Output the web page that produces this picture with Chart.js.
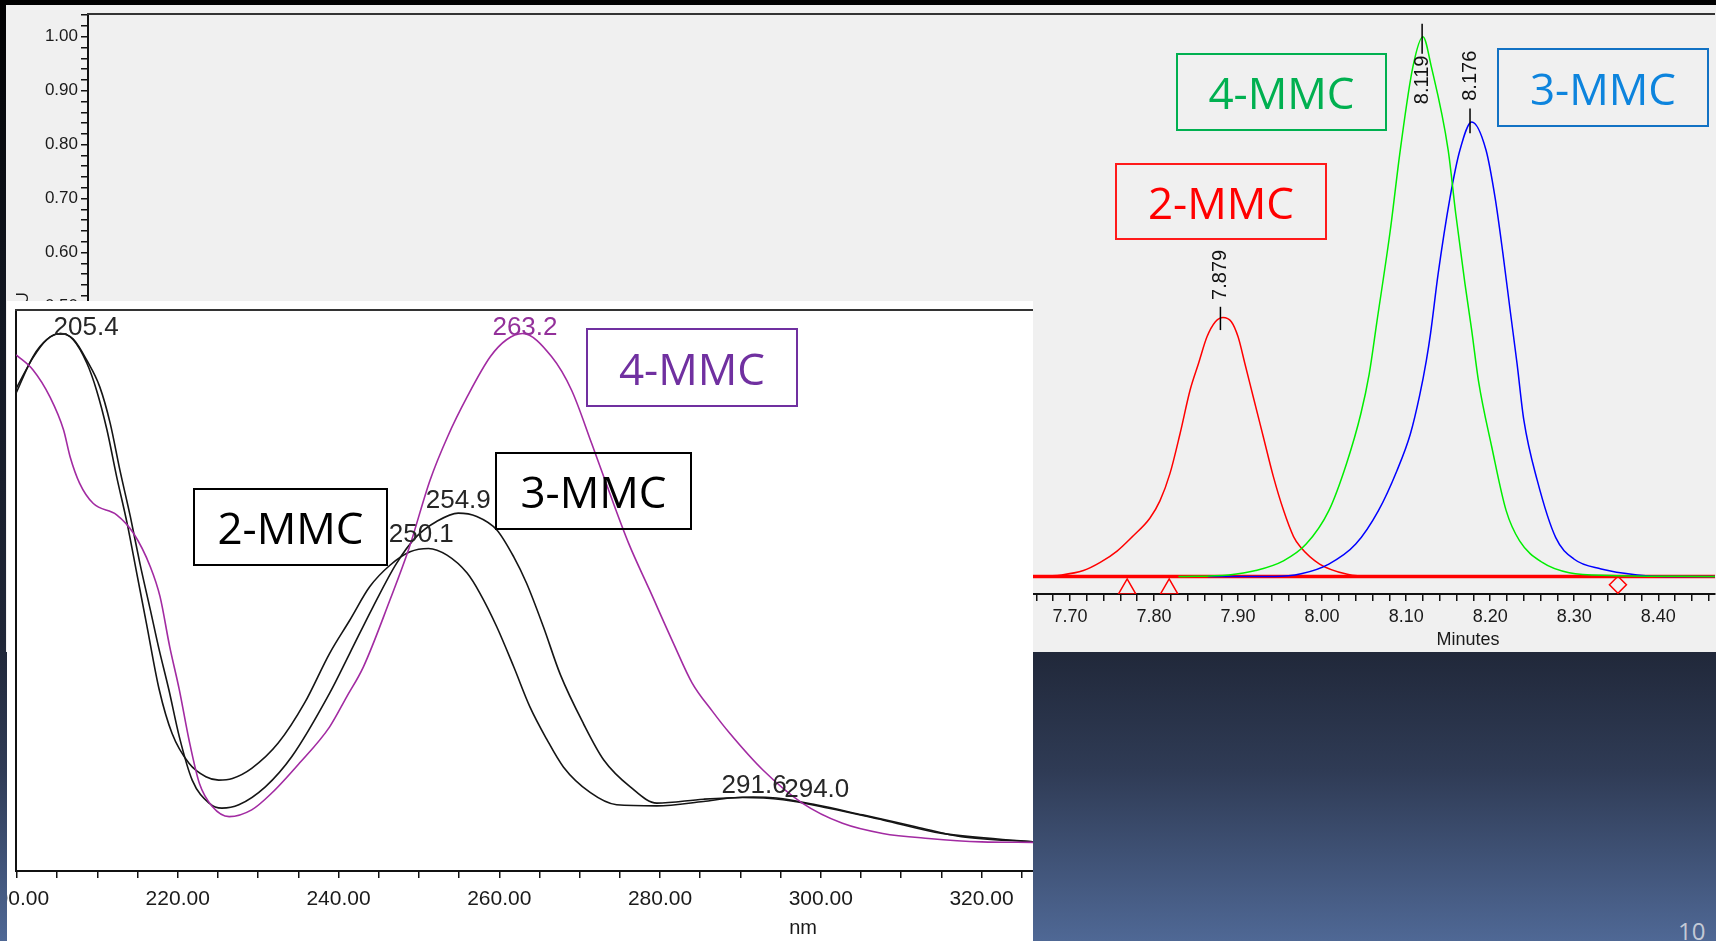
<!DOCTYPE html>
<html>
<head>
<meta charset="utf-8">
<title>MMC isomers - chromatogram and UV spectra</title>
<script src="https://cdn.jsdelivr.net/npm/chart.js@4.4.1/dist/chart.umd.min.js"></script>
<style>
  html, body { margin: 0; padding: 0; }
  body {
    position: relative; width: 1716px; height: 941px; overflow: hidden;
    background: linear-gradient(to bottom, #000 0px, #07090d 100px, #131823 330px, #1f2637 640px, #2f3b55 770px, #4f6895 941px);
  }
  #back { position: absolute; left: 6px; top: 5px; width: 1710px; height: 647px; background: #f0f0f0; }
  #front { position: absolute; left: 7px; top: 301px; width: 1026px; height: 640px; background: #fff; }
  canvas { display: block; }
  .tag {
    position: absolute; box-sizing: border-box; border: 2px solid;
    display: flex; align-items: center; justify-content: center;
    font-family: 'Open Sans', sans-serif; font-size: 44px; line-height: 1;
  }
  #page { position: absolute; left: 1678px; top: 919px; font-family: 'Open Sans', sans-serif; font-size: 24px; line-height: 24px; color: #c3cad6; }
</style>
</head>
<body>
<div id="back"><canvas id="chrom" width="1710" height="647"></canvas></div>
<div id="front"><canvas id="spec" width="1026" height="640"></canvas></div>

<div class="tag" style="left:1176px;top:53px;width:211px;height:78px;color:#00b050;border-color:#00b050">4-MMC</div>
<div class="tag" style="left:1497px;top:48px;width:212px;height:79px;color:#0d84dd;border-color:#1272c4">3-MMC</div>
<div class="tag" style="left:1115px;top:163px;width:212px;height:77px;color:#ff0000;border-color:#ff1a1a">2-MMC</div>
<div class="tag" style="left:586px;top:328px;width:212px;height:79px;color:#7030a0;border-color:#7030a0">4-MMC</div>
<div class="tag" style="left:193px;top:488px;width:195px;height:78px;color:#000;border-color:#000">2-MMC</div>
<div class="tag" style="left:495px;top:452px;width:197px;height:78px;color:#000;border-color:#000">3-MMC</div>
<div id="page">10</div>

<script>
const FONT = '"Liberation Sans", Arial, sans-serif';

// --- chromatogram (minutes / AU) ---
const redTimes = [7.65, 7.690, 7.716, 7.736, 7.756, 7.775, 7.795, 7.807, 7.819, 7.831, 7.843, 7.853, 7.863, 7.873, 7.882, 7.892, 7.900, 7.908, 7.918, 7.930, 7.942, 7.954, 7.966, 7.974, 7.997, 8.030, 8.057, 8.4675];
const redAbs = [0, 0.003, 0.011, 0.026, 0.047, 0.075, 0.108, 0.140, 0.191, 0.265, 0.346, 0.395, 0.444, 0.472, 0.480, 0.472, 0.444, 0.395, 0.333, 0.259, 0.185, 0.123, 0.074, 0.055, 0.023, 0.004, 0, 0];

const greenTimes = [7.829, 7.889, 7.921, 7.954, 7.981, 8.008, 8.029, 8.046, 8.056, 8.065, 8.081, 8.093, 8.108, 8.120, 8.130, 8.150, 8.159, 8.170, 8.178, 8.186, 8.202, 8.219, 8.235, 8.262, 8.294, 8.343, 8.4675];
const greenAbs = [0, 0.003, 0.011, 0.029, 0.060, 0.122, 0.209, 0.301, 0.375, 0.470, 0.640, 0.790, 0.944, 1.000, 0.944, 0.790, 0.672, 0.542, 0.456, 0.363, 0.239, 0.122, 0.066, 0.026, 0.007, 0.002, 0];

const blueTimes = [7.864, 7.943, 7.975, 8.008, 8.040, 8.067, 8.089, 8.105, 8.116, 8.124, 8.129, 8.138, 8.152, 8.164, 8.178, 8.195, 8.206, 8.215, 8.224, 8.232, 8.240, 8.256, 8.278, 8.300, 8.332, 8.375, 8.408, 8.4675];
const blueAbs = [0, 0, 0.005, 0.023, 0.060, 0.122, 0.196, 0.264, 0.335, 0.400, 0.450, 0.560, 0.700, 0.790, 0.842, 0.790, 0.700, 0.600, 0.490, 0.394, 0.290, 0.178, 0.072, 0.032, 0.014, 0.003, 0, 0];

const baseTimes = [6.5315, 8.4675];
const baseAbs = [0, 0];

const eventTimes = [7.768, 7.818, 8.352];
const eventLevels = [-0.023, -0.023, -0.0154];
const eventStyles = ['triangle', 'triangle', 'rectRot'];

const peakTimes = [7.879, 8.119, 8.176];
const peakNames = ['7.879', '8.119', '8.176'];
const peakHeights = [Math.max(...redAbs), Math.max(...greenAbs), Math.max(...blueAbs)];

// --- UV spectra (nm / relative absorbance) ---
const spec4Nm = [199.9, 202.0, 204.1, 205.8, 206.6, 207.8, 209.5, 212.4, 214.5, 216.6, 217.8, 219.0, 220.2, 221.4, 222.7, 224.3, 226.4, 229.2, 231.7, 235.0, 238.9, 241.0, 243.1, 246.4, 248.7, 251.4, 253.6, 256.0, 258.9, 260.9, 262.9, 266.5, 269.0, 271.5, 273.6, 276.1, 278.7, 281.7, 284.0, 286.5, 288.7, 292.8, 297.7, 302.7, 307.7, 313.4, 320.0, 326.4];
const spec4Abs = [0.920, 0.893, 0.845, 0.786, 0.739, 0.691, 0.655, 0.635, 0.602, 0.542, 0.489, 0.400, 0.323, 0.234, 0.156, 0.115, 0.097, 0.109, 0.139, 0.190, 0.257, 0.310, 0.364, 0.483, 0.572, 0.697, 0.775, 0.845, 0.917, 0.947, 0.958, 0.917, 0.857, 0.762, 0.679, 0.584, 0.501, 0.405, 0.335, 0.285, 0.245, 0.180, 0.121, 0.085, 0.067, 0.058, 0.052, 0.051];

const spec2Nm = [199.9, 202.0, 203.7, 205.4, 207.0, 208.7, 209.9, 211.2, 212.4, 213.7, 214.9, 216.1, 217.7, 219.3, 221.4, 223.5, 225.1, 226.8, 229.2, 232.5, 235.8, 238.9, 241.4, 243.9, 246.4, 248.9, 251.2, 253.5, 256.0, 257.6, 259.7, 261.8, 263.8, 265.9, 268.0, 271.3, 274.6, 279.6, 285.4, 288.7, 291.6, 294.5, 299.4, 305.2, 311.8, 317.5, 326.4];
const spec2Abs = [0.852, 0.917, 0.947, 0.958, 0.947, 0.905, 0.857, 0.786, 0.703, 0.620, 0.531, 0.442, 0.323, 0.245, 0.192, 0.168, 0.162, 0.165, 0.183, 0.228, 0.300, 0.388, 0.447, 0.507, 0.545, 0.569, 0.575, 0.563, 0.531, 0.495, 0.435, 0.364, 0.293, 0.235, 0.185, 0.140, 0.118, 0.116, 0.124, 0.130, 0.132, 0.130, 0.118, 0.100, 0.079, 0.061, 0.052];

const spec3Nm = [199.9, 202.0, 203.7, 205.4, 207.0, 208.7, 210.3, 211.6, 212.8, 214.1, 215.3, 216.6, 217.6, 218.9, 220.2, 221.8, 223.9, 225.5, 227.6, 230.9, 234.2, 238.9, 241.4, 244.3, 247.2, 249.7, 252.2, 254.9, 257.2, 259.7, 261.8, 263.4, 265.5, 267.6, 270.5, 273.0, 276.3, 279.6, 285.4, 290.3, 295.3, 301.0, 307.7, 315.1, 326.4];
const spec3Abs = [0.860, 0.915, 0.947, 0.958, 0.948, 0.910, 0.863, 0.798, 0.715, 0.632, 0.548, 0.465, 0.400, 0.323, 0.239, 0.162, 0.121, 0.112, 0.118, 0.150, 0.204, 0.317, 0.388, 0.471, 0.548, 0.596, 0.623, 0.638, 0.632, 0.608, 0.560, 0.513, 0.435, 0.350, 0.262, 0.198, 0.150, 0.121, 0.128, 0.131, 0.127, 0.112, 0.091, 0.067, 0.052];

const specPeakNames = ['205.4', '250.1', '254.9', '263.2', '291.6', '294.0'];
const specPeakColors = ['#262626', '#262626', '#262626', '#93309a', '#262626', '#262626'];

// label placement: [nm of text centre, absorbance of text baseline]
const specPeakSpots = [[208.6, 0.955], [250.3, 0.586], [254.9, 0.647], [263.2, 0.955], [291.7, 0.139], [299.5, 0.132]];
// chromatogram peak marks: tick above / below apex and text centre offset (px)
const chromMarkLayout = [{ up: 10.6, down: 12.7, text: -42.5 }, { up: 13, down: 17, text: 43.2 }, { up: 13.4, down: 11.3, text: -46.2 }];

const toXY = (xs, ys) => xs.map((x, i) => ({ x: x, y: ys[i] }));

const frameTop = {
    id: 'frameTop',
    afterDraw(chart) {
        const { ctx, chartArea: a } = chart;
        ctx.save();
        ctx.strokeStyle = '#333';
        ctx.lineWidth = 2;
        ctx.beginPath();
        ctx.moveTo(a.left - 1, a.top);
        ctx.lineTo(a.right, a.top);
        ctx.stroke();
        ctx.restore();
    }
};

const caption = (id, text, value, top, size) => ({
    id: id,
    afterDraw(chart) {
        const { ctx, scales: { x } } = chart;
        ctx.save();
        ctx.font = size + 'px ' + FONT;
        ctx.fillStyle = '#1a1a1a';
        ctx.textAlign = 'center';
        ctx.textBaseline = 'middle';
        ctx.fillText(text, x.getPixelForValue(value), top);
        ctx.restore();
    }
});

const chromPeaks = {
    id: 'chromPeaks',
    afterDatasetsDraw(chart) {
        const { ctx, scales: { x, y } } = chart;
        ctx.save();
        ctx.strokeStyle = '#000';
        ctx.lineWidth = 1.5;
        ctx.fillStyle = '#111';
        ctx.font = '20px ' + FONT;
        ctx.textAlign = 'center';
        ctx.textBaseline = 'middle';
        peakTimes.forEach((t, i) => {
            const px = x.getPixelForValue(t);
            const py = y.getPixelForValue(peakHeights[i]);
            const m = chromMarkLayout[i];
            ctx.beginPath();
            ctx.moveTo(px, py - m.up);
            ctx.lineTo(px, py + m.down);
            ctx.stroke();
            ctx.save();
            ctx.translate(px, py + m.text);
            ctx.rotate(-Math.PI / 2);
            ctx.fillText(peakNames[i], 0, 0);
            ctx.restore();
        });
        ctx.restore();
    }
};

const specPeaks = {
    id: 'specPeaks',
    afterDatasetsDraw(chart) {
        const { ctx, scales: { x, y } } = chart;
        ctx.save();
        ctx.font = '26px ' + FONT;
        ctx.textAlign = 'center';
        ctx.textBaseline = 'alphabetic';
        specPeakNames.forEach((name, i) => {
            ctx.fillStyle = specPeakColors[i];
            ctx.fillText(name, x.getPixelForValue(specPeakSpots[i][0]), y.getPixelForValue(specPeakSpots[i][1]));
        });
        ctx.restore();
    }
};

const chromCtx = document.getElementById('chrom').getContext('2d');
const chromChart = new Chart(chromCtx, {
    type: 'line',
    data: {
        datasets: [
            { label: '4-MMC', data: toXY(greenTimes, greenAbs), borderColor: '#00ee00', borderWidth: 1.5 },
            { label: '3-MMC', data: toXY(blueTimes, blueAbs), borderColor: '#0000ff', borderWidth: 1.5 },
            { label: '2-MMC', data: toXY(redTimes, redAbs), borderColor: '#ff0000', borderWidth: 1.5 },
            {
                label: 'events', type: 'scatter', showLine: false,
                data: toXY(eventTimes, eventLevels),
                pointStyle: eventStyles, pointRadius: [10, 10, 8.5], pointBorderWidth: 1.5,
                pointBorderColor: '#ff0000', pointBackgroundColor: 'rgba(0,0,0,0)'
            },
            { label: 'baseline', data: toXY(baseTimes, baseAbs), borderColor: '#ff0000', borderWidth: 3.5 }
        ]
    },
    options: {
        responsive: false,
        animation: false,
        events: [],
        layout: { autoPadding: false, padding: { top: 9, right: 1, left: 0, bottom: 0 } },
        elements: { point: { radius: 0 }, line: { cubicInterpolationMode: 'monotone' } },
        plugins: { legend: { display: false }, tooltip: { enabled: false } },
        scales: {
            x: {
                type: 'linear', min: 6.5315, max: 8.4675,
                afterFit: s => { s.height = 58; s.paddingLeft = 0; s.paddingRight = 0; },
                border: { color: '#111', width: 2 },
                grid: { drawOnChartArea: false, tickLength: 7, color: '#111', lineWidth: 1.5 },
                ticks: {
                    stepSize: 0.02, includeBounds: false, autoSkip: false, maxRotation: 0, padding: 5.5,
                    color: '#1a1a1a', font: { family: FONT, size: 18 },
                    callback: v => (Math.round(v * 100) % 10 === 0 ? v.toFixed(2) : '')
                }
            },
            y: {
                min: -0.0324, max: 1.042,
                afterFit: s => { s.width = 82; s.paddingTop = 0; s.paddingBottom = 0; },
                border: { color: '#111', width: 2 },
                grid: { drawOnChartArea: false, tickLength: 7, color: '#111', lineWidth: 1.5 },
                title: { display: true, text: 'AU', color: '#1a1a1a', font: { family: FONT, size: 17 }, padding: { top: 7, bottom: 0 } },
                ticks: {
                    stepSize: 0.02, includeBounds: false, autoSkip: false, padding: 3,
                    color: '#1a1a1a', font: { family: FONT, size: 17 },
                    callback: v => (Math.round(v * 100) % 10 === 0 ? v.toFixed(2) : '')
                }
            }
        }
    },
    plugins: [frameTop, chromPeaks, caption('minutesTitle', 'Minutes', 8.1736, 635.5, 18)]
});

const specCtx = document.getElementById('spec').getContext('2d');
const specChart = new Chart(specCtx, {
    type: 'line',
    data: {
        datasets: [
            { label: '4-MMC', data: toXY(spec4Nm, spec4Abs), borderColor: '#a22ba2', borderWidth: 1.6 },
            { label: '3-MMC', data: toXY(spec3Nm, spec3Abs), borderColor: '#151515', borderWidth: 1.6 },
            { label: '2-MMC', data: toXY(spec2Nm, spec2Abs), borderColor: '#151515', borderWidth: 1.6 }
        ]
    },
    options: {
        responsive: false,
        animation: false,
        events: [],
        layout: { autoPadding: false, padding: { top: 9, right: 0, left: 0, bottom: 0 } },
        elements: { point: { radius: 0 }, line: { cubicInterpolationMode: 'monotone' } },
        plugins: { legend: { display: false }, tooltip: { enabled: false } },
        scales: {
            x: {
                type: 'linear', min: 199.88, max: 326.4,
                afterFit: s => { s.height = 70; s.paddingLeft = 0; s.paddingRight = 0; },
                border: { color: '#111', width: 2 },
                grid: { drawOnChartArea: false, tickLength: 7, color: '#111', lineWidth: 1.5 },
                ticks: {
                    stepSize: 5, includeBounds: false, autoSkip: false, maxRotation: 0, padding: 8.5,
                    color: '#1a1a1a', font: { family: FONT, size: 21 },
                    callback: v => (Math.round(v) % 20 === 0 ? v.toFixed(2) : '')
                }
            },
            y: {
                min: 0, max: 1,
                afterFit: s => { s.width = 9; s.paddingTop = 0; s.paddingBottom = 0; },
                border: { color: '#111', width: 2 },
                grid: { drawOnChartArea: false, drawTicks: false },
                ticks: { display: false }
            }
        }
    },
    plugins: [frameTop, specPeaks, caption('nmTitle', 'nm', 297.8, 627, 20)]
});
</script>
</body>
</html>
